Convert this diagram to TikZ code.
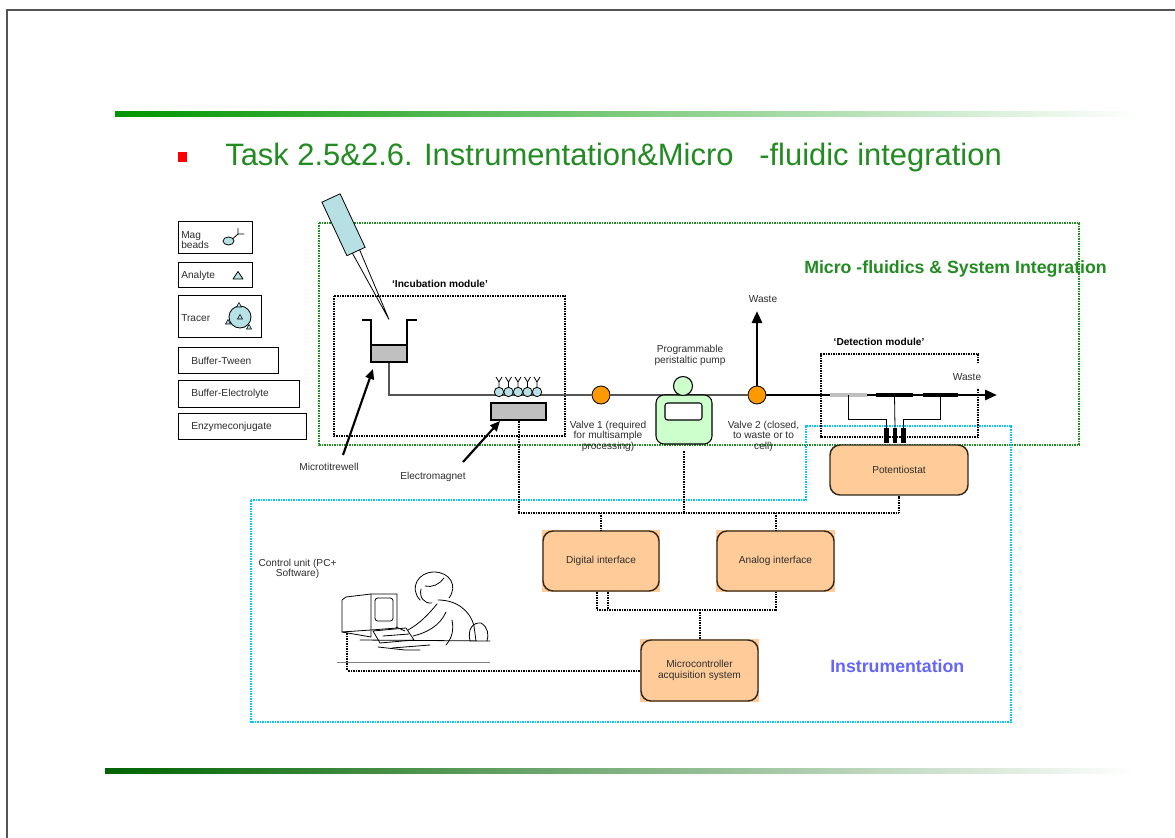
\documentclass[tikz,border=0pt]{standalone}
\usepackage{fontspec}
\setmainfont{Liberation Sans}
\usetikzlibrary{arrows.meta,calc,shapes.geometric}
\def\pxu{0.75pt}
\definecolor{framegray}{RGB}{85,85,85}
\definecolor{titlegreen}{RGB}{34,139,34}
\definecolor{boxgreen}{RGB}{30,140,30}
\definecolor{instcyan}{RGB}{0,200,255}
\definecolor{instblue}{RGB}{100,100,255}
\definecolor{peach}{RGB}{255,204,153}
\definecolor{boxline}{RGB}{50,40,30}
\definecolor{pumpgreen}{RGB}{204,255,204}
\definecolor{valveorange}{RGB}{255,153,0}
\definecolor{beadblue}{RGB}{182,226,230}
\definecolor{pipetteblue}{RGB}{182,224,228}
\definecolor{magnetgray}{RGB}{192,192,192}
\definecolor{flowgray}{RGB}{85,85,85}
\definecolor{txt}{RGB}{45,45,45}
\begin{document}
\begin{tikzpicture}[x=0.75pt,y=-0.75pt,
  lbl/.style={font=\fontsize{7.6}{7.9}\selectfont, text=txt, inner sep=0pt, align=center},
  lbll/.style={lbl, align=left},
  boldlbl/.style={font=\bfseries\fontsize{7.6}{7.9}\selectfont, text=black, inner sep=0pt},
  legendbox/.style={draw=black, line width=0.6pt, inner sep=0pt},
  peachbox/.style={draw=boxline, line width=1.1pt, rounded corners=7.5pt, fill=peach,
    font=\fontsize{7.6}{8.4}\selectfont, text=txt, align=center, inner sep=0pt},
  dots/.style={line width=1.5pt, dash pattern=on 0.8pt off 0.45pt},
  wire/.style={dots, black},
  modbox/.style={dots, black},
  flow/.style={line width=1.4pt, flowgray},
  flowblack/.style={line width=2pt, black},
  bigarrow/.style={line width=1.6pt, black, -{Triangle[length=7.5pt,width=6.5pt]}},
  valve/.style={circle, draw=black, line width=0.6pt, fill=valveorange, minimum size=18*\pxu, inner sep=0pt},
  pcline/.style={line width=0.6pt, black, line join=round, line cap=round},
  electrode/.style={rectangle, inner sep=0pt, minimum height=4.5*\pxu},
  pin/.style={rectangle, fill=black, inner sep=0pt, minimum width=4.5*\pxu, minimum height=15*\pxu}
]
\useasboundingbox (0,0) rectangle (1175,838);
\fill[white] (0,0) rectangle (1175,838);

% slide frame and decorative bars
\draw[framegray, line width=1.5pt] (7,838) -- (7,10) -- (1175,10);
\shade[left color={rgb,255:red,0;green,150;blue,0}, right color=white] (115,112) rectangle (1140,117);
\shade[left color={rgb,255:red,0;green,100;blue,0}, middle color={rgb,255:red,140;green,165;blue,140}, right color=white] (105,768) rectangle (1136,773);

% title
\fill[red] (178,152) rectangle (187,162);
\node[anchor=base west, inner sep=0pt, text=titlegreen, font=\fontsize{23.2}{28}\selectfont] (title) at (225,166)
  {Task 2.5\&2.6. Instrumentation\&Micro\ \ \ -fluidic integration};

% legend
\node[legendbox, minimum width=74*\pxu, minimum height=32*\pxu] (magbox) at (215,237) {};
\node[lbll, anchor=west] (magtxt) at (181,240) {Mag\\beads};
\draw[pcline, fill=beadblue] (228.5,241) ellipse [x radius=5.5, y radius=4];
\draw[pcline] (233,238.5) -- (238,234) -- (238,228.5) (238,234) -- (244,234);

\node[legendbox, minimum width=74*\pxu, minimum height=25*\pxu] (analytebox) at (215,274.5) {};
\node[lbll, anchor=west] (analytetxt) at (181,276) {Analyte};
\draw[pcline, fill=beadblue] (233,279) -- (243,279) -- (238,271.5) -- cycle;

\node[legendbox, minimum width=83*\pxu, minimum height=42*\pxu] (tracerbox) at (219.5,316) {};
\node[lbll, anchor=west] (tracertxt) at (181,318) {Tracer};
\draw[pcline, fill=beadblue] (240,317) circle [radius=11];
\foreach \tx/\ty in {239/305, 228/322, 249/327, 240/317}
  \draw[line width=0.4pt, black, fill=beadblue] (\tx-2.5,\ty+2) -- (\tx+2.5,\ty+2) -- (\tx,\ty-2.5) -- cycle;

\node[legendbox, minimum width=100*\pxu, minimum height=26*\pxu] (tweenbox) at (228,360) {};
\node[lbll, anchor=west] (tweentxt) at (191,360.5) {Buffer-Tween};
\node[legendbox, minimum width=121*\pxu, minimum height=27*\pxu] (elecbox) at (238.5,393.5) {};
\node[lbll, anchor=west] (electxt) at (191,394) {Buffer-Electrolyte};
\node[legendbox, minimum width=128*\pxu, minimum height=26*\pxu] (enzbox) at (242,426) {};
\node[lbll, anchor=west] (enztxt) at (191,426.5) {Enzymeconjugate};

% section frames
\node[anchor=base west, inner sep=0pt, text=titlegreen, font=\bfseries\fontsize{13.3}{16}\selectfont] (mfsi) at (804,273)
  {Micro -fluidics \& System Integration};
\draw[dots, boxgreen] (319,223) rectangle (1079,445);
\draw[dots, instcyan]
  (251,500) -- (806,500) -- (806,426) -- (1011,426) -- (1011,722) -- (251,722) -- cycle;
\node[anchor=base west, inner sep=0pt, text=instblue, font=\bfseries\fontsize{13.3}{16}\selectfont] (inst) at (830,672)
  {Instrumentation};

% incubation module
\draw[modbox] (334,296) rectangle (565,436);
\node[boldlbl] (inclbl) at (440,283.5) {`Incubation module'};

% pipette
\filldraw[fill=pipetteblue, draw=black, line width=0.6pt]
  (321.9,202.2) -- (340.1,193.8) -- (365.1,247.3) -- (346.9,255.7) -- cycle;
\draw[line width=0.6pt] (352.4,253.2) -- (389,319.5) -- (359.6,249.8);

% microtitre well
\node[rectangle, draw=black, line width=0.8pt, fill=magnetgray, minimum width=36*\pxu, minimum height=17*\pxu, inner sep=0pt] (wellfill) at (389,353.5) {};
\draw[line width=0.8pt] (362,320) -- (371,320) -- (371,362) (407,362) -- (407,320) -- (417,320);

% valves and pump
\node[valve] (valve1) at (601,395) {};
\node[valve] (valve2) at (757,395) {};
\draw[flow] (wellfill.south) |- (valve1.west);
\draw[flow] (valve1.east) -- (valve2.west);
\node[rectangle, draw=black, line width=0.8pt, fill=pumpgreen, rounded corners=6pt, minimum width=56*\pxu, minimum height=49*\pxu, inner sep=0pt] (pump) at (684,419.5) {};
\node[rectangle, draw=black, line width=0.8pt, fill=white, rounded corners=2pt, minimum width=37*\pxu, minimum height=17*\pxu, inner sep=0pt] (pumpwin) at (683.5,411.5) {};
\node[circle, draw=black, line width=0.8pt, fill=pumpgreen, minimum size=19*\pxu, inner sep=0pt] (pumphead) at (683,386) {};
\node[lbl] (pumplbl) at (690,355.5) {Programmable\\peristaltic pump};
\node[lbl] (v1lbl) at (608,436) {Valve 1 (required\\for multisample\\processing)};
\node[lbl] (v2lbl) at (763.5,436) {Valve 2 (closed,\\to waste or to\\cell)};

% magnetic beads on the channel
\foreach \i in {0,...,4} {
  \pgfmathsetmacro{\bx}{499+9.5*\i}
  \draw[line width=0.6pt] (\bx,387.5) -- (\bx,382) -- (\bx-3,377) (\bx,382) -- (\bx+3,377);
  \draw[line width=0.6pt, fill=beadblue] (\bx,392) circle [radius=4.7];
}
\node[rectangle, draw=black, line width=0.8pt, fill=magnetgray, minimum width=55*\pxu, minimum height=17*\pxu, inner sep=0pt] (magnet) at (518.5,411.5) {};

% pointer arrows
\node[lbl] (mtwlbl) at (329,467) {Microtitrewell};
\node[lbl] (emlbl) at (433,477) {Electromagnet};
\coordinate (mtwtail) at (343,455);
\coordinate (mtwtip) at (373,369);
\coordinate (emtail) at (463,462);
\coordinate (emtip) at (500,421);
\draw[bigarrow] (mtwtail) -- (mtwtip);
\draw[bigarrow] (emtail) -- (emtip);

% waste outlets
\node[lbl] (waste1) at (763,299) {Waste};
\coordinate (wastetip) at (757,311);
\draw[flowblack, -{Triangle[length=9pt,width=7.5pt]}] (valve2.north) -- (wastetip);
\coordinate (outtip) at (997,395);
\draw[flowblack, -{Triangle[length=9pt,width=7.5pt]}] (valve2.east) -- (outtip);

% detection module
\draw[modbox] (978,363) -- (978,354) -- (821,354) -- (821,437) -- (978,437) -- (978,388);
\node[boldlbl] (detlbl) at (879,341.5) {`Detection module'};
\node[lbl] (waste2) at (967,377) {Waste};
\node[electrode, fill=magnetgray, minimum width=37*\pxu] (el1) at (848.5,395) {};
\node[electrode, fill=black, minimum width=37*\pxu] (el2) at (894.5,395) {};
\node[electrode, fill=black, minimum width=35*\pxu] (el3) at (940.5,395) {};
\node[pin] (pinA) at (886.5,435.5) {};
\node[pin] (pinB) at (895,435.5) {};
\node[pin] (pinC) at (903.5,435.5) {};
\draw[line width=0.6pt] (el1.center) |- (886.5,419) -- (pinA.north);
\draw[line width=0.6pt] (el2.center) -- (pinB.north);
\draw[line width=0.6pt] (el3.center) |- (903.5,419) -- (pinC.north);

% instrumentation blocks
\node[peachbox, minimum width=138*\pxu, minimum height=50*\pxu] (potentiostat) at (899,470) {Potentiostat};
\fill[peach] (542,530) rectangle (660,592);
\node[peachbox, minimum width=116*\pxu, minimum height=60*\pxu] (digital) at (601,561) {Digital interface};
\fill[peach] (716,530) rectangle (835,592);
\node[peachbox, minimum width=117*\pxu, minimum height=60*\pxu] (analog) at (775.5,561) {Analog interface};
\fill[peach] (640,639) rectangle (759,702);
\node[peachbox, minimum width=117*\pxu, minimum height=61*\pxu] (micro) at (699.5,670.5) {Microcontroller\\acquisition system};

% control unit sketch
\node[lbl] (pclbl) at (297.5,569) {Control unit (PC+\\Software)};
\draw[pcline] (342,632) -- (342,600) -- (346,597) -- (371,594) -- (397,594) -- (397,628) -- (371,630) -- cycle;
\draw[pcline] (371,594) -- (371,637) (342,632) -- (371,637);
\draw[pcline, rounded corners=2pt] (375,598) rectangle (393,621);
\draw[pcline] (373,631) -- (406,628) -- (414,640) -- (380,643) -- cycle;
\draw[pcline] (383,636) -- (409,634);
\draw[pcline] (360,640) -- (490,641);
\draw[pcline] (378,647) -- (405,650) -- (420,650);
\draw[pcline] (392,648) -- (430,645);
\draw[line width=0.5pt, gray] (337,662) -- (490,662);
% figure at the keyboard
\draw[pcline] (420,600) .. controls (409,588) and (418,572) .. (434,572) .. controls (450,572) and (458,586) .. (449,598);
\draw[pcline] (421,589) .. controls (419,597) and (424,604) .. (432,603);
\draw[pcline] (425,586) .. controls (432,588) and (440,584) .. (444,578);
\draw[pcline] (438,600) .. controls (456,600) and (470,610) .. (474,626) -- (476,641);
\draw[pcline] (437,604) .. controls (428,615) and (419,624) .. (408,630);
\draw[pcline] (446,612) .. controls (440,626) and (426,633) .. (413,636);
\draw[pcline] (452,620) .. controls (454,630) and (452,638) .. (446,645);
\draw[pcline] (470,641) .. controls (467,628) and (474,622) .. (481,623) .. controls (488,627) and (489,635) .. (487,641);
\draw[pcline] (405,631) -- (396,627);

% wiring
\coordinate (busy) at (0,513);
\coordinate (bus2) at (0,610);
\coordinate (pcport) at (347,631);
\draw[wire] (magnet.south) |- (potentiostat.south |- busy) -- (potentiostat.south);
\draw[wire] ($(pump.south)+(0,6)$) -- (pump.south |- busy);
\draw[wire] (digital.north |- busy) -- (digital.north);
\draw[wire] (analog.north |- busy) -- (analog.north);
\draw[wire] ([xshift=-3pt]digital.south) |- (analog.south |- bus2) -- (analog.south);
\draw[wire] ([xshift=5.25pt]digital.south) -- ([xshift=5.25pt]digital.south |- bus2);
\draw[wire] (micro.north |- bus2) -- (micro.north);
\draw[wire] (micro.west) -| (pcport);
\end{tikzpicture}
\end{document}
